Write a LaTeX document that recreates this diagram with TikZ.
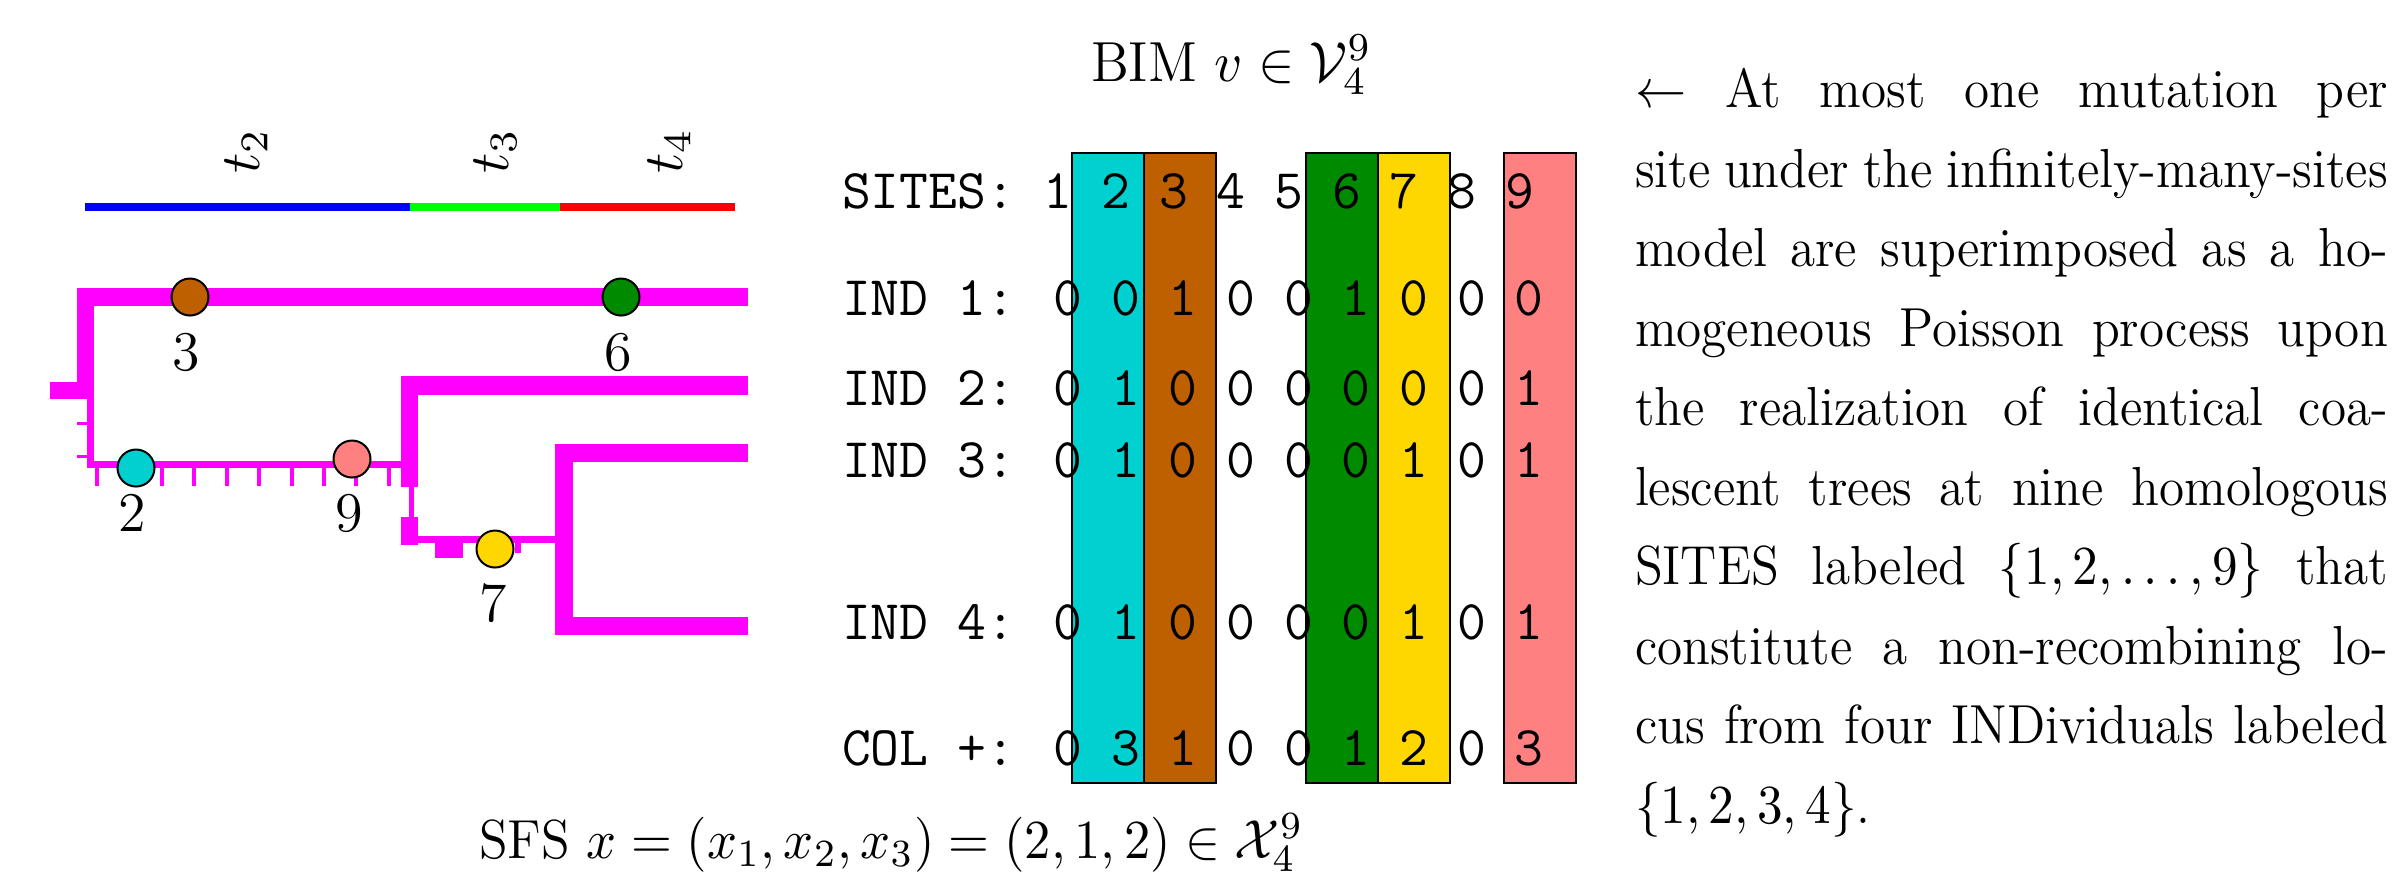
\documentclass[tikz,border=0pt]{standalone}
\usepackage{fix-cm}
\usepackage{graphicx}
\definecolor{mcyan}{RGB}{0,208,208}
\definecolor{mbrown}{RGB}{191,96,0}
\definecolor{mgreen}{RGB}{0,138,0}
\definecolor{myellow}{RGB}{255,215,0}
\definecolor{msalmon}{RGB}{255,128,128}
\definecolor{treecol}{RGB}{255,0,255}
\newcommand\bodyline[1]{\scalebox{0.93}[1]{\makebox[161.9pt][s]{\spaceskip=0pt\xspaceskip=0pt #1}}}
\tikzset{
  mainfont/.style={font=\fontsize{11.2}{15.9}\selectfont},
  textfont/.style={font=\fontsize{11}{15.9}\selectfont},
  br/.style={fill=treecol, draw=none},
  mut/.style={circle, draw=black, line width=0.4pt, minimum size=7.4pt, inner sep=0pt},
  lab/.style={inner sep=0pt, mainfont},
  row/.style={anchor=base west, inner sep=0pt, font=\fontsize{11.2}{13}\selectfont\ttfamily},
  colbox/.style={draw=black, line width=0.4pt},
}
\begin{document}
\begin{tikzpicture}[x=0.2pt, y=-0.2pt, mainfont]
\useasboundingbox (0,0) rectangle (2396,872);

% time bars
\fill[blue]  (85,203) rectangle (410,211);
\fill[green] (410,203) rectangle (560,211);
\fill[red]   (560,203) rectangle (735,211);
\node[rotate=90, inner sep=0pt] (t2) at (246,151) {$t_2$};
\node[rotate=90, inner sep=0pt] (t3) at (495,151) {$t_3$};
\node[rotate=90, inner sep=0pt] (t4) at (669,151) {$t_4$};

% tree
\fill[br] (77,288) rectangle (748,306);
\fill[br] (77,288) rectangle (94,399);
\fill[br] (50,382) rectangle (94,399);
\fill[br] (87,399) rectangle (94,468);
\fill[br] (77,422) rectangle (87,425);
\fill[br] (77,455) rectangle (87,458);
\fill[br] (87,461) rectangle (401,468);
\foreach \x in {97,162,194,227,259,292,324,356,389}
  \fill[br] (\x-1.7,468) rectangle (\x+1.7,486);
\fill[br] (401,376) rectangle (748,395);
\fill[br] (401,376) rectangle (418,487);
\fill[br] (409,487) rectangle (414,517);
\fill[br] (401,517) rectangle (418,545);
\fill[br] (418,536) rectangle (555,543);
\fill[br] (435,543) rectangle (463,558);
\fill[br] (515,543) rectangle (521,553);
\fill[br] (555,444) rectangle (573,635);
\fill[br] (555,444) rectangle (748,462);
\fill[br] (555,617) rectangle (748,635);

% mutations
\node[mut, fill=mbrown]  (m3) at (190,297) {};
\node[mut, fill=mgreen]  (m6) at (621,297) {};
\node[mut, fill=mcyan]   (m2) at (136,468) {};
\node[mut, fill=msalmon] (m9) at (352,459) {};
\node[mut, fill=myellow] (m7) at (495,549) {};
\node[lab] (l3) at (186,352) {3};
\node[lab] (l6) at (618,352) {6};
\node[lab] (l2) at (132,513) {2};
\node[lab] (l9) at (349,513) {9};
\node[lab] (l7) at (493,603) {7};

% BIM title
\node[anchor=base west, inner sep=0pt, font=\fontsize{11.3}{13}\selectfont] (bim) at (1090,81) {\scalebox{0.965}[1]{BIM $v\in\mathcal{V}_4^9$}};

% column boxes
\draw[colbox, fill=mcyan]    (1072,153) rectangle (1144,783);
\draw[colbox, fill=mbrown]   (1144,153) rectangle (1216,783);
\draw[colbox, fill=mgreen]   (1306,153) rectangle (1378,783);
\draw[colbox, fill=myellow]  (1378,153) rectangle (1450,783);
\draw[colbox, fill=msalmon]  (1504,153) rectangle (1576,783);

% matrix rows
\node[row] (rs)  at (841,208) {SITES: 1 2 3 4 5 6 7 8 9};
\node[row] (r1)  at (841,315) {IND 1: 0 0 1 0 0 1 0 0 0};
\node[row] (r2)  at (841,405) {IND 2: 0 1 0 0 0 0 0 0 1};
\node[row] (r3)  at (841,477) {IND 3: 0 1 0 0 0 0 1 0 1};
\node[row] (r4)  at (841,639) {IND 4: 0 1 0 0 0 0 1 0 1};
\node[row] (rc)  at (841,765) {COL +: 0 3 1 0 0 1 2 0 3};

% SFS
\node[anchor=base west, inner sep=0pt, textfont] (sfs) at (478,858) {\scalebox{0.955}[1]{SFS $x=(x_1,x_2,x_3)=(2,1,2)\in\mathcal{X}_4^9$}};

% body text
\node[anchor=north west, inner sep=0pt, text width=150.6pt, align=left, textfont] (body) at (1634,67.5) {%
\bodyline{$\leftarrow$ At most one mutation per}\\
\bodyline{site under the infinitely-many-sites}\\
\bodyline{model are superimposed as a ho-}\\
\bodyline{mogeneous Poisson process upon}\\
\bodyline{the realization of identical coa-}\\
\bodyline{lescent trees at nine homologous}\\
\bodyline{SITES labeled $\{1,2,\ldots,9\}$ that}\\
\bodyline{constitute a non-recombining lo-}\\
\bodyline{cus from four INDividuals labeled}\\
\scalebox{0.93}[1]{$\{1,2,3,4\}$.}};
\end{tikzpicture}
\end{document}
